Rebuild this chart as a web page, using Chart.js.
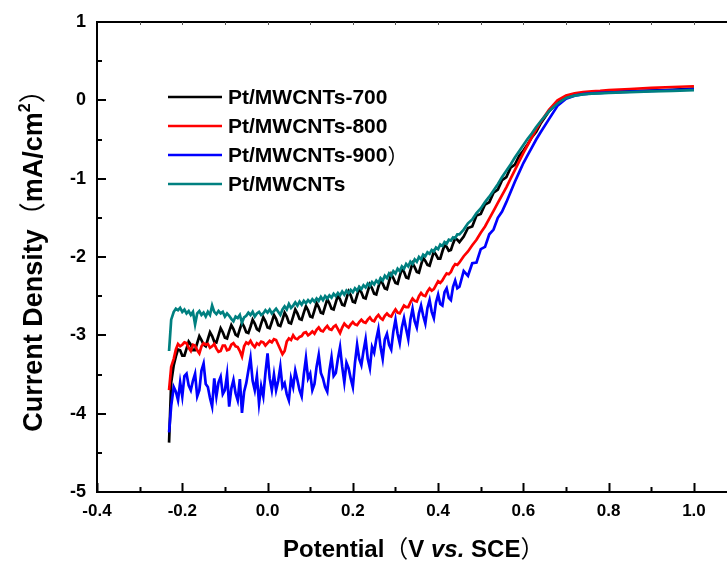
<!DOCTYPE html>
<html>
<head>
<meta charset="utf-8">
<script src="https://cdn.jsdelivr.net/npm/chart.js@4/dist/chart.umd.min.js"></script>
<style>
  html, body { margin: 0; padding: 0; overflow: hidden; background: #fff; }
  #wrap { position: relative; width: 760px; height: 563px; }
</style>
</head>
<body>
<div id="wrap"><canvas id="lsv" width="760" height="563"></canvas></div>
<script>
// Potential (V vs. SCE)
const potential = [
  -0.231,-0.226,
  -0.22,-0.215,-0.21,-0.205,-0.20,-0.195,-0.19,-0.185,-0.18,-0.175,
  -0.17,-0.165,-0.16,-0.155,-0.15,-0.145,-0.14,-0.135,-0.13,-0.125,
  -0.12,-0.115,-0.11,-0.105,-0.10,-0.095,-0.09,-0.085,-0.08,-0.075,
  -0.07,-0.065,-0.06,-0.055,-0.05,-0.045,-0.04,-0.035,-0.03,-0.025,
  -0.02,-0.015,-0.01,-0.005,0.00,0.005,0.01,0.015,0.02,0.025,
  0.03,0.035,0.04,0.045,0.05,0.055,0.06,0.065,0.07,0.075,
  0.08,0.085,0.09,0.095,0.10,0.105,0.11,0.115,0.12,0.125,
  0.13,0.135,0.14,0.145,0.15,0.155,0.16,0.165,0.17,0.175,
  0.18,0.185,0.19,0.195,0.20,0.205,0.21,0.215,0.22,0.225,
  0.23,0.235,0.24,0.245,0.25,0.255,0.26,0.265,0.27,0.275,
  0.28,0.285,0.29,0.295,0.30,0.305,0.31,0.315,0.32,0.325,
  0.33,0.335,0.34,0.345,0.35,0.355,0.36,0.365,0.37,0.375,
  0.38,0.385,0.39,0.395,0.40,0.405,0.41,0.415,0.42,0.425,
  0.43,0.435,0.44,0.445,0.45,
  0.46,0.47,0.48,0.49,0.50,0.51,0.52,0.53,0.54,0.55,
  0.56,0.57,0.58,0.59,0.60,0.61,0.62,0.63,0.64,
  0.66,0.68,0.70,0.72,0.74,0.76,0.78,0.80,0.85,0.90,0.95,1.00
];

// Current density (mA/cm2) for each catalyst
const pt700 = [
  -4.37,-3.60,
  -3.38,-3.27,-3.18,-3.19,-3.26,-3.26,-3.17,-3.08,-3.12,-3.19,
  -3.19,-3.10,-3.01,-3.06,-3.12,-3.14,-3.05,-2.96,-3.01,-3.08,
  -3.09,-3.00,-2.91,-2.96,-3.03,-3.04,-2.95,-2.87,-2.92,-2.99,
  -3.01,-2.92,-2.84,-2.89,-2.96,-2.97,-2.89,-2.80,-2.85,-2.92,
  -2.94,-2.85,-2.77,-2.82,-2.90,-2.91,-2.83,-2.74,-2.79,-2.87,
  -2.88,-2.80,-2.71,-2.76,-2.84,-2.85,-2.76,-2.67,-2.72,-2.79,
  -2.80,-2.71,-2.63,-2.68,-2.76,-2.77,-2.68,-2.59,-2.64,-2.71,
  -2.72,-2.63,-2.54,-2.59,-2.66,-2.67,-2.58,-2.49,-2.54,-2.61,
  -2.62,-2.53,-2.44,-2.49,-2.57,-2.58,-2.49,-2.40,-2.45,-2.52,
  -2.53,-2.44,-2.35,-2.40,-2.47,-2.48,-2.38,-2.29,-2.34,-2.40,
  -2.41,-2.31,-2.22,-2.27,-2.33,-2.34,-2.24,-2.15,-2.19,-2.26,
  -2.27,-2.17,-2.08,-2.13,-2.19,-2.20,-2.10,-2.01,-2.05,-2.10,
  -2.11,-2.02,-1.93,-1.97,-2.02,-2.02,-1.93,-1.85,-1.87,-1.92,
  -1.91,-1.83,-1.76,-1.78,-1.81,
  -1.74,-1.63,-1.61,-1.47,-1.45,-1.33,-1.30,-1.18,-1.14,-1.02,
  -0.98,-0.86,-0.82,-0.71,-0.64,-0.56,-0.47,-0.40,-0.30,
  -0.14,-0.03,0.04,0.07,0.085,0.095,0.10,0.105,0.115,0.125,0.135,0.15
];
const pt800 = [
  -3.70,-3.40,
  -3.30,-3.18,-3.11,-3.14,-3.12,-3.09,-3.10,-3.16,-3.20,-3.12,
  -3.13,-3.19,-3.23,-3.14,-3.10,-3.12,-3.11,-3.16,-3.14,-3.11,
  -3.17,-3.21,-3.20,-3.13,-3.13,-3.19,-3.18,-3.12,-3.10,-3.14,
  -3.15,-3.20,-3.27,-3.14,-3.09,-3.11,-3.07,-3.12,-3.15,-3.10,
  -3.12,-3.08,-3.09,-3.13,-3.10,-3.07,-3.09,-3.05,-3.06,-3.12,
  -3.18,-3.24,-3.20,-3.08,-3.04,-3.06,-3.00,-3.04,-3.05,-3.02,
  -3.01,-2.97,-2.96,-3.00,-2.98,-2.95,-2.98,-2.93,-2.90,-2.94,
  -2.95,-2.91,-2.88,-2.92,-2.93,-2.89,-2.87,-2.92,-2.97,-2.90,
  -2.85,-2.88,-2.90,-2.86,-2.83,-2.86,-2.87,-2.83,-2.80,-2.83,
  -2.84,-2.80,-2.77,-2.81,-2.82,-2.77,-2.74,-2.78,-2.80,-2.75,
  -2.72,-2.75,-2.76,-2.71,-2.67,-2.71,-2.72,-2.67,-2.62,-2.64,
  -2.64,-2.58,-2.53,-2.56,-2.57,-2.50,-2.46,-2.49,-2.50,-2.44,
  -2.40,-2.43,-2.41,-2.36,-2.31,-2.33,-2.30,-2.25,-2.21,-2.22,
  -2.19,-2.13,-2.09,-2.10,-2.07,
  -1.99,-1.93,-1.85,-1.78,-1.69,-1.61,-1.51,-1.41,-1.31,-1.21,
  -1.11,-1.00,-0.89,-0.78,-0.67,-0.57,-0.47,-0.37,-0.28,
  -0.12,0.00,0.06,0.09,0.105,0.115,0.12,0.13,0.145,0.16,0.17,0.18
];
const pt900 = [
  -4.24,-3.90,
  -3.66,-3.72,-3.83,-3.60,-3.78,-3.52,-3.49,-3.64,-3.70,-3.58,
  -3.49,-3.78,-3.70,-3.45,-3.36,-3.62,-3.66,-3.80,-3.91,-3.55,
  -3.78,-3.60,-3.53,-3.75,-3.70,-3.50,-3.91,-3.68,-3.57,-3.74,
  -3.83,-3.56,-3.99,-3.72,-3.61,-3.45,-3.29,-3.58,-3.70,-3.52,
  -3.87,-3.65,-3.78,-3.48,-3.23,-3.55,-3.70,-3.50,-3.70,-3.58,
  -3.40,-3.66,-3.61,-3.75,-3.83,-3.55,-3.66,-3.45,-3.57,-3.70,
  -3.78,-3.50,-3.29,-3.55,-3.49,-3.70,-3.62,-3.40,-3.25,-3.48,
  -3.55,-3.66,-3.72,-3.45,-3.28,-3.52,-3.48,-3.30,-3.15,-3.40,
  -3.60,-3.35,-3.42,-3.55,-3.66,-3.35,-3.12,-3.30,-3.38,-3.20,
  -3.05,-3.30,-3.42,-3.15,-3.22,-3.05,-2.92,-3.15,-3.30,-3.05,
  -2.98,-3.12,-3.18,-2.95,-2.80,-2.98,-3.10,-2.90,-2.78,-2.92,
  -3.05,-2.80,-2.66,-2.82,-2.90,-2.72,-2.62,-2.75,-2.85,-2.65,
  -2.55,-2.70,-2.78,-2.58,-2.48,-2.60,-2.62,-2.45,-2.40,-2.52,
  -2.55,-2.38,-2.30,-2.40,-2.38,
  -2.18,-2.24,-2.08,-2.07,-1.90,-1.87,-1.71,-1.65,-1.50,-1.42,
  -1.30,-1.17,-1.04,-0.92,-0.80,-0.70,-0.60,-0.50,-0.41,
  -0.24,-0.07,0.02,0.06,0.08,0.09,0.095,0.10,0.11,0.12,0.13,0.14
];
const ptBare = [
  -3.20,-2.80,
  -2.70,-2.66,-2.68,-2.65,-2.70,-2.67,-2.72,-2.69,-2.74,-2.70,
  -2.86,-2.72,-2.69,-2.74,-2.71,-2.76,-2.70,-2.74,-2.62,-2.70,
  -2.73,-2.69,-2.72,-2.70,-2.76,-2.72,-2.75,-2.79,-2.82,-2.76,
  -2.78,-2.74,-2.84,-2.77,-2.75,-2.71,-2.74,-2.70,-2.76,-2.72,
  -2.70,-2.74,-2.72,-2.68,-2.71,-2.67,-2.72,-2.69,-2.66,-2.70,
  -2.74,-2.67,-2.63,-2.67,-2.60,-2.65,-2.62,-2.58,-2.62,-2.57,
  -2.61,-2.56,-2.59,-2.55,-2.58,-2.54,-2.57,-2.53,-2.56,-2.51,
  -2.55,-2.50,-2.53,-2.49,-2.52,-2.47,-2.50,-2.46,-2.49,-2.44,
  -2.48,-2.43,-2.46,-2.42,-2.45,-2.40,-2.43,-2.38,-2.41,-2.36,
  -2.39,-2.34,-2.37,-2.32,-2.35,-2.30,-2.33,-2.27,-2.30,-2.24,
  -2.27,-2.21,-2.24,-2.18,-2.21,-2.15,-2.18,-2.12,-2.15,-2.09,
  -2.12,-2.06,-2.09,-2.03,-2.06,-2.00,-2.03,-1.97,-1.99,-1.94,
  -1.96,-1.91,-1.93,-1.88,-1.90,-1.84,-1.86,-1.81,-1.83,-1.78,
  -1.79,-1.75,-1.76,-1.71,-1.71,
  -1.65,-1.57,-1.52,-1.44,-1.38,-1.30,-1.23,-1.15,-1.07,-0.98,
  -0.90,-0.82,-0.73,-0.65,-0.57,-0.49,-0.42,-0.34,-0.27,
  -0.14,-0.04,0.03,0.06,0.075,0.085,0.09,0.095,0.105,0.115,0.12,0.13
];

const seriesNames = ['Pt/MWCNTs-700', 'Pt/MWCNTs-800', 'Pt/MWCNTs-900）', 'Pt/MWCNTs'];
const seriesColors = ['#000000', '#ff0000', '#0000ff', '#008080'];
const seriesValues = [pt700, pt800, pt900, ptBare];

const xTickValues = [-0.4, -0.2, 0.0, 0.2, 0.4, 0.6, 0.8, 1.0];
const yTickValues = [1, 0, -1, -2, -3, -4, -5];

const LATIN = "'Liberation Sans', Arial, sans-serif";
const CJK = "'Noto Sans CJK SC', 'Noto Sans CJK JP', sans-serif";

function drawRuns(ctx, runs, x, y) {
  let cx = x;
  runs.forEach(r => {
    ctx.font = r.font;
    ctx.fillText(r.text, cx, y + (r.dy || 0));
    cx += ctx.measureText(r.text).width;
  });
}
function runsWidth(ctx, runs) {
  let w = 0;
  runs.forEach(r => { ctx.font = r.font; w += ctx.measureText(r.text).width; });
  return w;
}

// Axis frame with inward tick marks, axis titles and the legend
const framePlugin = {
  id: 'frame',
  afterDraw(chart) {
    const { ctx, chartArea: a, scales } = chart;
    const xs = scales.x, ys = scales.y;
    ctx.save();
    ctx.strokeStyle = '#000';
    ctx.lineWidth = 2;
    ctx.beginPath();
    ctx.moveTo(a.left, a.top - 1); ctx.lineTo(a.left, a.bottom);
    ctx.lineTo(a.right, a.bottom); ctx.lineTo(a.right, a.top);
    ctx.lineTo(a.left - 1, a.top);
    // bottom axis ticks, major every 0.2 and minor every 0.1
    for (let i = -4; i <= 11; i++) {
      const px = Math.round(xs.getPixelForValue(i / 10)) + 0.5;
      const len = (i % 2 === 0) ? 9 : 5;
      ctx.moveTo(px, a.bottom); ctx.lineTo(px, a.bottom - len);
    }
    // left axis ticks, major every 1 and minor every 0.5
    for (let i = -10; i <= 2; i++) {
      const py = Math.round(ys.getPixelForValue(i / 2));
      const len = (i % 2 === 0) ? 9 : 5;
      ctx.moveTo(a.left, py); ctx.lineTo(a.left + len, py);
    }
    ctx.stroke();
    // faint ticks along the top edge
    ctx.lineWidth = 1;
    ctx.strokeStyle = '#555';
    ctx.beginPath();
    for (let i = -3; i <= 10; i++) {
      const px = Math.round(xs.getPixelForValue(i / 10)) + 0.5;
      ctx.moveTo(px, a.top); ctx.lineTo(px, a.top + 3);
    }
    ctx.stroke();

    ctx.fillStyle = '#000';
    ctx.textBaseline = 'alphabetic';
    ctx.textAlign = 'left';

    // x-axis title
    const xRuns = [
      { text: 'Potential', font: 'bold 24px ' + LATIN },
      { text: '（', font: '24px ' + CJK },
      { text: 'V ', font: 'bold 24px ' + LATIN },
      { text: 'vs.', font: 'italic bold 24px ' + LATIN },
      { text: ' SCE', font: 'bold 24px ' + LATIN },
      { text: '）', font: '24px ' + CJK }
    ];
    drawRuns(ctx, xRuns, 283, 557);

    // y-axis title, rotated
    const yRuns = [
      { text: 'Current Density', font: 'bold 27px ' + LATIN },
      { text: '（', font: '27px ' + CJK },
      { text: 'mA/cm', font: 'bold 27px ' + LATIN },
      { text: '2', font: 'bold 16px ' + LATIN, dy: -12 },
      { text: '）', font: '27px ' + CJK }
    ];
    const yw = runsWidth(ctx, yRuns);
    ctx.save();
    ctx.translate(42, 254 + yw / 2);
    ctx.rotate(-Math.PI / 2);
    drawRuns(ctx, yRuns, 0, 0);
    ctx.restore();

    // legend
    const rows = [97, 126, 155, 184];
    ctx.textBaseline = 'middle';
    seriesNames.forEach((name, i) => {
      ctx.strokeStyle = seriesColors[i];
      ctx.lineWidth = 2.5;
      ctx.beginPath();
      ctx.moveTo(168, rows[i]); ctx.lineTo(222, rows[i]);
      ctx.stroke();
      ctx.fillStyle = '#000';
      const parts = name.split('）');
      ctx.font = 'bold 21px ' + LATIN;
      ctx.fillText(parts[0], 228, rows[i] + 1);
      if (parts.length > 1) {
        const w = ctx.measureText(parts[0]).width;
        ctx.font = '21px ' + CJK;
        ctx.fillText('）', 228 + w, rows[i] + 1);
      }
    });
    ctx.restore();
  }
};

const drawOrder = [4, 3, 2, 1];
const datasets = seriesValues.map((vals, i) => ({
  label: seriesNames[i],
  data: potential.map((x, j) => ({ x: x, y: vals[j] })),
  borderColor: seriesColors[i],
  backgroundColor: seriesColors[i],
  borderWidth: 2.7,
  pointRadius: 0,
  tension: 0,
  fill: false,
  order: drawOrder[i]
}));

new Chart(document.getElementById('lsv'), {
  type: 'line',
  data: { datasets: datasets },
  options: {
    responsive: false,
    animation: false,
    devicePixelRatio: 1,
    layout: { padding: { left: 0, top: 22, right: 23.4, bottom: 0 } },
    plugins: { legend: { display: false }, tooltip: { enabled: false } },
    scales: {
      x: {
        type: 'linear',
        min: -0.4,
        max: 1.1,
        grid: { display: false, drawTicks: false },
        border: { display: false },
        afterBuildTicks: s => { s.ticks = xTickValues.map(v => ({ value: v })); },
        afterFit: s => { s.height = 71; },
        ticks: {
          padding: 9,
          color: '#000',
          maxRotation: 0,
          font: { family: LATIN, size: 17, weight: 'bold' },
          callback: v => Number(v).toFixed(1)
        }
      },
      y: {
        type: 'linear',
        min: -5,
        max: 1,
        grid: { display: false, drawTicks: false },
        border: { display: false },
        afterBuildTicks: s => { s.ticks = yTickValues.map(v => ({ value: v })); },
        afterFit: s => { s.width = 97; },
        ticks: {
          padding: 11,
          color: '#000',
          font: { family: LATIN, size: 18, weight: 'bold' },
          callback: v => String(v)
        }
      }
    }
  },
  plugins: [framePlugin]
});
</script>
</body>
</html>
